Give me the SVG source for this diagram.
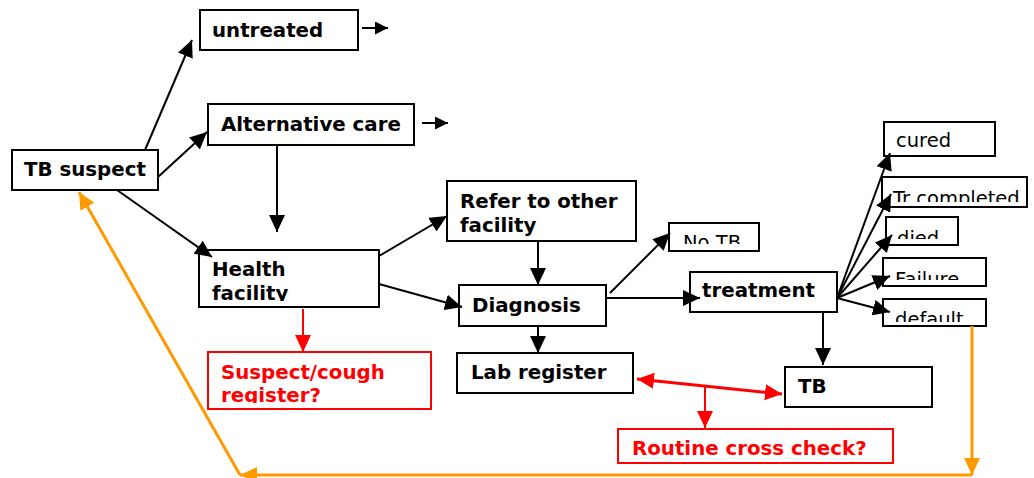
<svg xmlns="http://www.w3.org/2000/svg" width="1034" height="478" viewBox="0 0 1034 478">
<style>
.box{fill:#fff;stroke:#000;stroke-width:2}
.rbox{fill:#fff;stroke:#f00;stroke-width:2}
.t{font-family:"DejaVu Sans","Liberation Sans",sans-serif;font-size:19.8px;font-weight:bold;fill:#000}
.tn{font-family:"DejaVu Sans","Liberation Sans",sans-serif;font-size:19.5px;fill:#000}
.tr{font-family:"DejaVu Sans","Liberation Sans",sans-serif;font-size:19.8px;font-weight:bold;fill:#f00}
.ln{stroke:#000;stroke-width:2;fill:none}
.rl{stroke:#f00;stroke-width:2;fill:none}
.rl3{stroke:#f00;stroke-width:3;fill:none}
.ol{stroke:#f90;stroke-width:3;fill:none}
</style>
<defs>
<marker id="ab" markerUnits="userSpaceOnUse" markerWidth="18" markerHeight="16" refX="17" refY="8" orient="auto"><path d="M0,0 L17,8 L0,16 z" fill="#000"/></marker>
<marker id="abs" markerUnits="userSpaceOnUse" markerWidth="14" markerHeight="13" refX="13" refY="6.5" orient="auto"><path d="M0,0 L13,6.5 L0,13 z" fill="#000"/></marker>
<marker id="ar" markerUnits="userSpaceOnUse" markerWidth="18" markerHeight="16" refX="17" refY="8" orient="auto-start-reverse"><path d="M0,0 L17,8 L0,16 z" fill="#f00"/></marker>
<marker id="ao" markerUnits="userSpaceOnUse" markerWidth="18" markerHeight="16" refX="17" refY="8" orient="auto"><path d="M0,0 L17,8 L0,16 z" fill="#f90"/></marker>
<clipPath id="cHF"><rect x="199" y="250" width="180" height="51"/></clipPath>
<clipPath id="cSC"><rect x="208" y="352" width="223" height="51"/></clipPath>
<clipPath id="cNT"><rect x="669" y="223" width="90" height="21"/></clipPath>
<clipPath id="cTC"><rect x="882" y="177" width="150" height="25"/></clipPath>
<clipPath id="cDI"><rect x="886" y="217" width="72" height="22"/></clipPath>
<clipPath id="cFA"><rect x="883" y="258" width="103" height="22"/></clipPath>
<clipPath id="cDE"><rect x="883" y="299" width="103" height="23"/></clipPath>
</defs>

<g id="tb-suspect"><rect class="box" x="12" y="150" width="146" height="40"/><text class="t" x="24" y="176">TB suspect</text></g>
<g id="untreated"><rect class="box" x="200" y="10" width="158" height="40"/><text class="t" x="212" y="37">untreated</text></g>
<g id="alternative-care"><rect class="box" x="208" y="104" width="206" height="41"/><text class="t" x="221" y="131">Alternative care</text></g>
<g id="health-facility"><rect class="box" x="199" y="250" width="180" height="57"/><g clip-path="url(#cHF)"><text class="t" x="212" y="276">Health</text><text class="t" x="212" y="300">facility</text></g></g>
<g id="suspect-register"><rect class="rbox" x="208" y="352" width="223" height="57"/><g clip-path="url(#cSC)"><text class="tr" x="221" y="379">Suspect/cough</text><text class="tr" x="221" y="402">register?</text></g></g>
<g id="refer"><rect class="box" x="447" y="181" width="189" height="60"/><text class="t" x="460" y="208">Refer to other</text><text class="t" x="460" y="232">facility</text></g>
<g id="diagnosis"><rect class="box" x="459" y="285" width="147" height="41"/><text class="t" x="472" y="312">Diagnosis</text></g>
<g id="lab-register"><rect class="box" x="457" y="353" width="176" height="40"/><text class="t" x="471" y="379">Lab register</text></g>
<g id="no-tb"><rect class="box" x="669" y="223" width="90" height="28"/><g clip-path="url(#cNT)"><text class="tn" x="683" y="249">No TB</text></g></g>
<g id="treatment"><rect class="box" x="690" y="272" width="147" height="40"/><text class="t" x="702" y="297">treatment</text></g>
<g id="tb"><rect class="box" x="785" y="367" width="147" height="40"/><text class="t" x="798" y="393">TB</text></g>
<g id="routine-check"><rect class="rbox" x="618" y="429" width="275" height="34"/><text class="tr" x="632" y="455">Routine cross check?</text></g>
<g id="cured"><rect class="box" x="884" y="122" width="111" height="34"/><text class="tn" x="896" y="147">cured</text></g>
<g id="tr-completed"><rect class="box" x="882" y="177" width="145" height="30"/><g clip-path="url(#cTC)"><text class="tn" x="893" y="205">Tr completed</text></g></g>
<g id="died"><rect class="box" x="886" y="217" width="72" height="28"/><g clip-path="url(#cDI)"><text class="tn" x="897" y="245">died</text></g></g>
<g id="failure"><rect class="box" x="883" y="258" width="103" height="28"/><g clip-path="url(#cFA)"><text class="tn" x="895" y="286">Failure</text></g></g>
<g id="default"><rect class="box" x="883" y="299" width="103" height="27"/><g clip-path="url(#cDE)"><text class="tn" x="895" y="326">default</text></g></g>

<g id="connectors">
<line class="ln" x1="145" y1="150" x2="192" y2="40" marker-end="url(#ab)"/>
<line class="ln" x1="158" y1="177" x2="207" y2="132" marker-end="url(#ab)"/>
<line class="ln" x1="117" y1="190" x2="212" y2="257" marker-end="url(#ab)"/>
<line class="ln" x1="362" y1="28" x2="388" y2="28" marker-end="url(#abs)"/>
<line class="ln" x1="422" y1="123" x2="448" y2="123" marker-end="url(#abs)"/>
<line class="ln" x1="277" y1="145" x2="277" y2="232" marker-end="url(#ab)"/>
<line class="ln" x1="379" y1="256" x2="447" y2="216" marker-end="url(#ab)"/>
<line class="ln" x1="379" y1="284" x2="462" y2="307" marker-end="url(#ab)"/>
<line class="ln" x1="538" y1="241" x2="538" y2="285" marker-end="url(#ab)"/>
<line class="ln" x1="538" y1="326" x2="538" y2="353" marker-end="url(#ab)"/>
<line class="ln" x1="610" y1="293" x2="670" y2="233" marker-end="url(#ab)"/>
<line class="ln" x1="606" y1="298" x2="700" y2="298" marker-end="url(#ab)"/>
<line class="ln" x1="823" y1="312" x2="823" y2="365" marker-end="url(#ab)"/>
<line class="ln" x1="837" y1="298" x2="890" y2="153" marker-end="url(#ab)"/>
<line class="ln" x1="837" y1="298" x2="891" y2="194" marker-end="url(#ab)"/>
<line class="ln" x1="837" y1="298" x2="892" y2="235" marker-end="url(#ab)"/>
<line class="ln" x1="837" y1="298" x2="890" y2="276" marker-end="url(#ab)"/>
<line class="ln" x1="837" y1="298" x2="890" y2="312" marker-end="url(#ab)"/>
<line class="rl" x1="303" y1="309" x2="303" y2="352" marker-end="url(#ar)"/>
<line class="rl3" x1="637" y1="379" x2="782" y2="394" marker-start="url(#ar)" marker-end="url(#ar)"/>
<line class="rl" x1="705" y1="387" x2="705" y2="428" marker-end="url(#ar)"/>
<line class="ol" x1="972" y1="326" x2="972" y2="475" marker-end="url(#ao)"/>
<line class="ol" x1="972" y1="475" x2="240" y2="475" marker-end="url(#ao)"/>
<line class="ol" x1="240" y1="475" x2="79" y2="192" marker-end="url(#ao)"/>
</g>
</svg>
